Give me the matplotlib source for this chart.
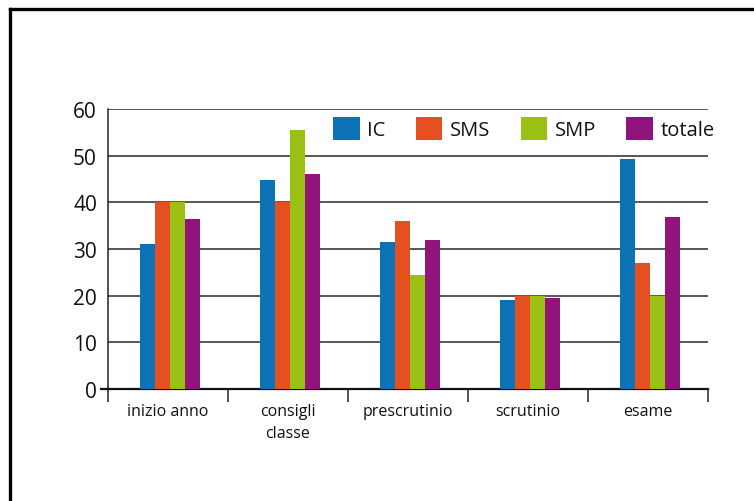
import matplotlib
matplotlib.use("Agg")
import matplotlib.pyplot as plt
import numpy as np
from matplotlib.lines import Line2D

plt.rcParams["font.family"] = ["Open Sans", "DejaVu Sans"]

categories = ["inizio anno", "consigli\nclasse", "prescrutinio", "scrutinio", "esame"]
series_names = ["IC", "SMS", "SMP", "totale"]
ic = [31.1, 44.8, 31.5, 19.1, 49.3]
sms = [40.0, 40.0, 36.0, 20.0, 27.0]
smp = [40.0, 55.5, 24.4, 20.0, 20.0]
totale = [36.4, 46.1, 31.9, 19.5, 36.9]
colors = ["#0C71B5", "#E65021", "#99C012", "#93137D"]
y_ticks = [0, 10, 20, 30, 40, 50, 60]

W, H = 754, 502
fig = plt.figure(figsize=(W / 100, H / 100), dpi=100)
ax = fig.add_axes([108 / W, 1 - 390 / H, 600 / W, 280 / H])

x = np.arange(len(categories)) + 0.5
bw = 0.125
for k, (vals, name) in enumerate(zip([ic, sms, smp, totale], series_names)):
    ax.bar(x + (k - 1.5) * bw + 0.015, vals, width=bw, color=colors[k],
           label=name, zorder=3, linewidth=0)

ax.set_xlim(0, len(categories))
ax.set_ylim(0, 60)
ax.set_yticks(y_ticks)
ax.yaxis.grid(True, color="#2a2a2a", linewidth=1.1, zorder=1)
ax.tick_params(axis="y", length=0, pad=8, labelsize=15, colors="#111111")

# x ticks: boundaries with marks, centres with labels
ax.set_xticks(np.arange(len(categories) + 1))
ax.set_xticklabels([])
ax.set_xticks(x, minor=True)
ax.set_xticklabels(categories, minor=True, fontsize=11.5, linespacing=1.55)
ax.tick_params(axis="x", which="major", length=9, width=1.1, color="#222222",
               direction="out")
ax.tick_params(axis="x", which="minor", length=0, pad=10, colors="#111111")

for s in ["top", "right"]:
    ax.spines[s].set_visible(False)
ax.spines["left"].set_color("#222222")
ax.spines["left"].set_linewidth(1.1)
ax.spines["bottom"].set_color("#111111")
ax.spines["bottom"].set_linewidth(1.6)
ax.plot([-0.012, 0], [0, 0], color="#111111", linewidth=1.6,
        transform=ax.get_yaxis_transform(), clip_on=False)

leg = ax.legend(loc="upper left", bbox_to_anchor=(333 / W, 1 - 118 / H),
                bbox_transform=fig.transFigure, ncol=4, frameon=False,
                fontsize=14.5, handlelength=1.32, handleheight=1.35,
                handletextpad=0.38, columnspacing=1.5, borderpad=0,
                borderaxespad=0)
for t in leg.get_texts():
    t.set_color("#111111")

# outer frame (left and top edges)
fig.add_artist(Line2D([10 / W, 10 / W], [0, 1 - 10 / H], color="black",
                      linewidth=2.4, transform=fig.transFigure))
fig.add_artist(Line2D([10 / W, 1], [1 - 10 / H, 1 - 10 / H], color="black",
                      linewidth=2.4, transform=fig.transFigure))

fig.savefig("out.png", dpi=100)
